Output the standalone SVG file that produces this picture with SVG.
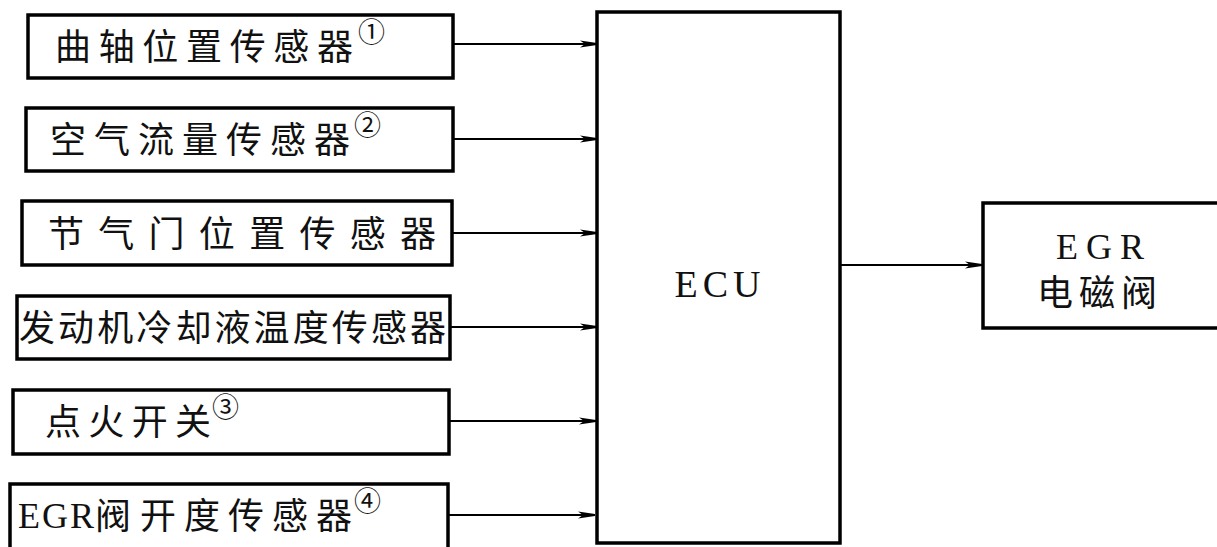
<svg xmlns="http://www.w3.org/2000/svg" width="1217" height="547" viewBox="0 0 1217 547">
<style>
.box{fill:#fff;stroke:#000;stroke-width:3.5}
.cjk{font-family:"Noto Sans CJK SC","Noto Sans CJK JP",sans-serif;font-size:36px;fill:#111}
.num{font-family:"Noto Sans CJK SC",sans-serif;font-size:27px;fill:#111}
.lat{font-family:"Liberation Serif",serif;fill:#111}
.conn{stroke:#000;stroke-width:2;fill:none}
</style>
<defs>
<marker id="ah" markerUnits="userSpaceOnUse" markerWidth="18" markerHeight="8" refX="17" refY="4" orient="auto">
<path d="M0,0.6 L17,3 L17,5 L0,7.4 L5,4 Z" fill="#000"/>
</marker>
</defs>
<rect x="0" y="0" width="1217" height="547" fill="#fff"/>
<g id="connectors">
<line class="conn" x1="453" y1="44" x2="597" y2="44" marker-end="url(#ah)"/>
<line class="conn" x1="453" y1="139" x2="597" y2="139" marker-end="url(#ah)"/>
<line class="conn" x1="452" y1="233" x2="597" y2="233" marker-end="url(#ah)"/>
<line class="conn" x1="450" y1="327" x2="597" y2="327" marker-end="url(#ah)"/>
<line class="conn" x1="449" y1="421" x2="596" y2="421" marker-end="url(#ah)"/>
<line class="conn" x1="448" y1="515" x2="595" y2="515" marker-end="url(#ah)"/>
<line class="conn" x1="840" y1="265" x2="982" y2="265" marker-end="url(#ah)"/>
</g>
<g id="n1">
<rect class="box" x="28" y="15" width="425" height="63"/>
<text class="cjk" x="55" y="60" textLength="298" lengthAdjust="spacing">曲轴位置传感器</text>
<text class="num" x="358" y="42">①</text>
</g>
<g id="n2">
<rect class="box" x="26" y="108" width="427" height="63"/>
<text class="cjk" x="50" y="153" textLength="300" lengthAdjust="spacing">空气流量传感器</text>
<text class="num" x="354" y="135">②</text>
</g>
<g id="n3">
<rect class="box" x="22" y="201" width="430" height="64"/>
<text class="cjk" x="48" y="247" textLength="388" lengthAdjust="spacing">节气门位置传感器</text>
</g>
<g id="n4">
<rect class="box" x="17" y="296" width="433" height="63"/>
<text class="cjk" x="19" y="341" textLength="427" lengthAdjust="spacing">发动机冷却液温度传感器</text>
</g>
<g id="n5">
<rect class="box" x="13" y="390" width="436" height="64"/>
<text class="cjk" x="45" y="435" textLength="166" lengthAdjust="spacing">点火开关</text>
<text class="num" x="212" y="417">③</text>
</g>
<g id="n6">
<rect class="box" x="10" y="484" width="438" height="80"/>
<text class="lat" x="18" y="528" font-size="36" textLength="76" lengthAdjust="spacing">EGR</text>
<text class="cjk" x="95" y="529">阀</text>
<text class="cjk" x="140" y="529" textLength="212" lengthAdjust="spacing">开度传感器</text>
<text class="num" x="354" y="511">④</text>
</g>
<g id="ecu">
<rect class="box" x="597" y="12" width="243" height="531"/>
<text class="lat" x="720" y="297" font-size="38" text-anchor="middle" letter-spacing="5">ECU</text>
</g>
<g id="egr">
<rect class="box" x="983" y="203" width="250" height="125"/>
<text class="lat" x="1104" y="259" font-size="36" text-anchor="middle" letter-spacing="8">EGR</text>
<text class="cjk" x="1100" y="306" text-anchor="middle" letter-spacing="6">电磁阀</text>
</g>
</svg>
